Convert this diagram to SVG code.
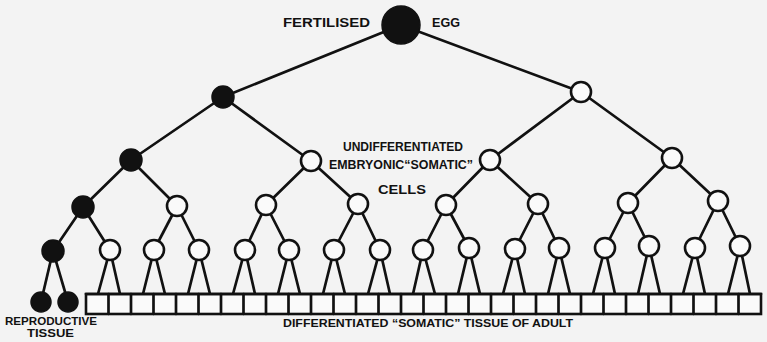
<svg xmlns="http://www.w3.org/2000/svg" width="767" height="342" viewBox="0 0 767 342">
  <style>
    .bg { fill: #f3f3f3; }
    .edge { stroke: #111; stroke-width: 2.7; stroke-linecap: round; fill: none; }
    .germ { fill: #111; stroke: #111; stroke-width: 1.5; }
    .soma { fill: #fafafa; stroke: #111; stroke-width: 2.6; }
    .tissue { fill: #fafafa; stroke: #111; stroke-width: 2.6; }
    .lbl { font-family: "Liberation Sans", Arial, sans-serif; font-weight: bold; fill: #111; }
  </style>
  <rect class="bg" x="0" y="0" width="767" height="342"/>

  <!-- connectors: cell divisions, drawn beneath the cells -->
  <g id="connectors" class="edge">
    <!-- first divisions -->
    <line x1="401" y1="25" x2="223" y2="97"/>
    <line x1="401" y1="25" x2="581" y2="92"/>
    <line x1="223" y1="97" x2="131" y2="160"/>
    <line x1="223" y1="97" x2="311" y2="161"/>
    <line x1="581" y1="92" x2="490" y2="160"/>
    <line x1="581" y1="92" x2="672" y2="158"/>
    <line x1="131" y1="160" x2="83" y2="207"/>
    <line x1="131" y1="160" x2="177" y2="206"/>
    <line x1="311" y1="161" x2="266" y2="205"/>
    <line x1="311" y1="161" x2="358" y2="204"/>
    <line x1="490" y1="160" x2="446" y2="205"/>
    <line x1="490" y1="160" x2="538" y2="204"/>
    <line x1="672" y1="158" x2="628" y2="203"/>
    <line x1="672" y1="158" x2="718" y2="201"/>
    <!-- fourth division -->
    <line x1="83" y1="207" x2="53" y2="251"/>
    <line x1="83" y1="207" x2="110" y2="250"/>
    <line x1="177" y1="206" x2="154" y2="250"/>
    <line x1="177" y1="206" x2="199" y2="250"/>
    <line x1="266" y1="205" x2="245" y2="250"/>
    <line x1="266" y1="205" x2="289" y2="250"/>
    <line x1="358" y1="204" x2="334" y2="250"/>
    <line x1="358" y1="204" x2="380" y2="250"/>
    <line x1="446" y1="205" x2="423" y2="250"/>
    <line x1="446" y1="205" x2="469" y2="248"/>
    <line x1="538" y1="204" x2="515" y2="249"/>
    <line x1="538" y1="204" x2="559" y2="248"/>
    <line x1="628" y1="203" x2="605" y2="248"/>
    <line x1="628" y1="203" x2="649" y2="246"/>
    <line x1="718" y1="201" x2="695" y2="248"/>
    <line x1="718" y1="201" x2="740" y2="246"/>
    <!-- germ line to reproductive tissue -->
    <line x1="53" y1="251" x2="41" y2="302"/>
    <line x1="53" y1="251" x2="68" y2="302"/>
    <!-- somatic cells to differentiated tissue -->
    <path d="M110 250 L98 294 M110 250 L120 294
             M154 250 L143 294 M154 250 L165 294
             M199 250 L188 294 M199 250 L210 294
             M245 250 L233 294 M245 250 L255 294
             M289 250 L278 294 M289 250 L300 294
             M334 250 L323 294 M334 250 L345 294
             M380 250 L368 294 M380 250 L390 294
             M423 250 L413 294 M423 250 L435 294
             M469 248 L458 294 M469 248 L480 294
             M515 249 L503 294 M515 249 L525 294
             M559 248 L548 294 M559 248 L570 294
             M605 248 L593 294 M605 248 L615 294
             M649 246 L638 294 M649 246 L660 294
             M695 248 L683 294 M695 248 L705 294
             M740 246 L728 294 M740 246 L750 294"/>
  </g>

  <!-- fertilised egg -->
  <g id="egg">
    <circle class="germ" cx="401" cy="25" r="19"/>
    <text class="lbl" x="283" y="26.5" font-size="13.5" textLength="87" lengthAdjust="spacingAndGlyphs">FERTILISED</text>
    <text class="lbl" x="432" y="26.5" font-size="13.5" textLength="28" lengthAdjust="spacingAndGlyphs">EGG</text>
  </g>

  <!-- germ line cells -->
  <g id="germ-1"><circle class="germ" cx="223" cy="97" r="11"/></g>
  <g id="germ-2"><circle class="germ" cx="131" cy="160" r="11"/></g>
  <g id="germ-3"><circle class="germ" cx="83" cy="207" r="11"/></g>
  <g id="germ-4"><circle class="germ" cx="53" cy="251" r="11"/></g>

  <!-- undifferentiated somatic cells -->
  <g id="soma-1"><circle class="soma" cx="581" cy="92" r="10"/></g>
  <g id="soma-2a"><circle class="soma" cx="311" cy="161" r="10"/></g>
  <g id="soma-2b"><circle class="soma" cx="490" cy="160" r="10"/></g>
  <g id="soma-2c"><circle class="soma" cx="672" cy="158" r="10"/></g>
  <g id="soma-3a"><circle class="soma" cx="177" cy="206" r="10"/></g>
  <g id="soma-3b"><circle class="soma" cx="266" cy="205" r="10"/></g>
  <g id="soma-3c"><circle class="soma" cx="358" cy="204" r="10"/></g>
  <g id="soma-3d"><circle class="soma" cx="446" cy="205" r="10"/></g>
  <g id="soma-3e"><circle class="soma" cx="538" cy="204" r="10"/></g>
  <g id="soma-3f"><circle class="soma" cx="628" cy="203" r="10"/></g>
  <g id="soma-3g"><circle class="soma" cx="718" cy="201" r="10"/></g>
  <g id="soma-4">
    <circle class="soma" cx="110" cy="250" r="10"/>
    <circle class="soma" cx="154" cy="250" r="10"/>
    <circle class="soma" cx="199" cy="250" r="10"/>
    <circle class="soma" cx="245" cy="250" r="10"/>
    <circle class="soma" cx="289" cy="250" r="10"/>
    <circle class="soma" cx="334" cy="250" r="10"/>
    <circle class="soma" cx="380" cy="250" r="10"/>
    <circle class="soma" cx="423" cy="250" r="10"/>
    <circle class="soma" cx="469" cy="248" r="10"/>
    <circle class="soma" cx="515" cy="249" r="10"/>
    <circle class="soma" cx="559" cy="248" r="10"/>
    <circle class="soma" cx="605" cy="248" r="10"/>
    <circle class="soma" cx="649" cy="246" r="10"/>
    <circle class="soma" cx="695" cy="248" r="10"/>
    <circle class="soma" cx="740" cy="246" r="10"/>
  </g>
  <g id="soma-label">
    <text class="lbl" x="343" y="151" font-size="12.5" textLength="120" lengthAdjust="spacingAndGlyphs">UNDIFFERENTIATED</text>
    <text class="lbl" x="329" y="169" font-size="12.5" textLength="144" lengthAdjust="spacingAndGlyphs">EMBRYONIC“SOMATIC”</text>
    <text class="lbl" x="378" y="194" font-size="12.5" textLength="48" lengthAdjust="spacingAndGlyphs">CELLS</text>
  </g>

  <!-- reproductive tissue -->
  <g id="reproductive">
    <circle class="germ" cx="41" cy="302" r="10"/>
    <circle class="germ" cx="68" cy="302" r="10"/>
    <text class="lbl" x="5" y="325" font-size="11" textLength="92" lengthAdjust="spacingAndGlyphs">REPRODUCTIVE</text>
    <text class="lbl" x="27" y="337" font-size="11" textLength="47" lengthAdjust="spacingAndGlyphs">TISSUE</text>
  </g>

  <!-- differentiated somatic tissue: a row of thirty cells -->
  <g id="somatic-tissue">
    <rect class="tissue" x="86" y="294" width="675" height="20"/>
    <path class="edge" d="M86 294 H761"/>
    <path class="edge" d="M108.5 294 V314 M131 294 V314 M153.5 294 V314 M176 294 V314 M198.5 294 V314
             M221 294 V314 M243.5 294 V314 M266 294 V314 M288.5 294 V314 M311 294 V314
             M333.5 294 V314 M356 294 V314 M378.5 294 V314 M401 294 V314 M423.5 294 V314
             M446 294 V314 M468.5 294 V314 M491 294 V314 M513.5 294 V314 M536 294 V314
             M558.5 294 V314 M581 294 V314 M603.5 294 V314 M626 294 V314 M648.5 294 V314
             M671 294 V314 M693.5 294 V314 M716 294 V314 M738.5 294 V314"/>
    <text class="lbl" x="283" y="327" font-size="11" textLength="290" lengthAdjust="spacingAndGlyphs">DIFFERENTIATED “SOMATIC” TISSUE OF ADULT</text>
  </g>
</svg>
